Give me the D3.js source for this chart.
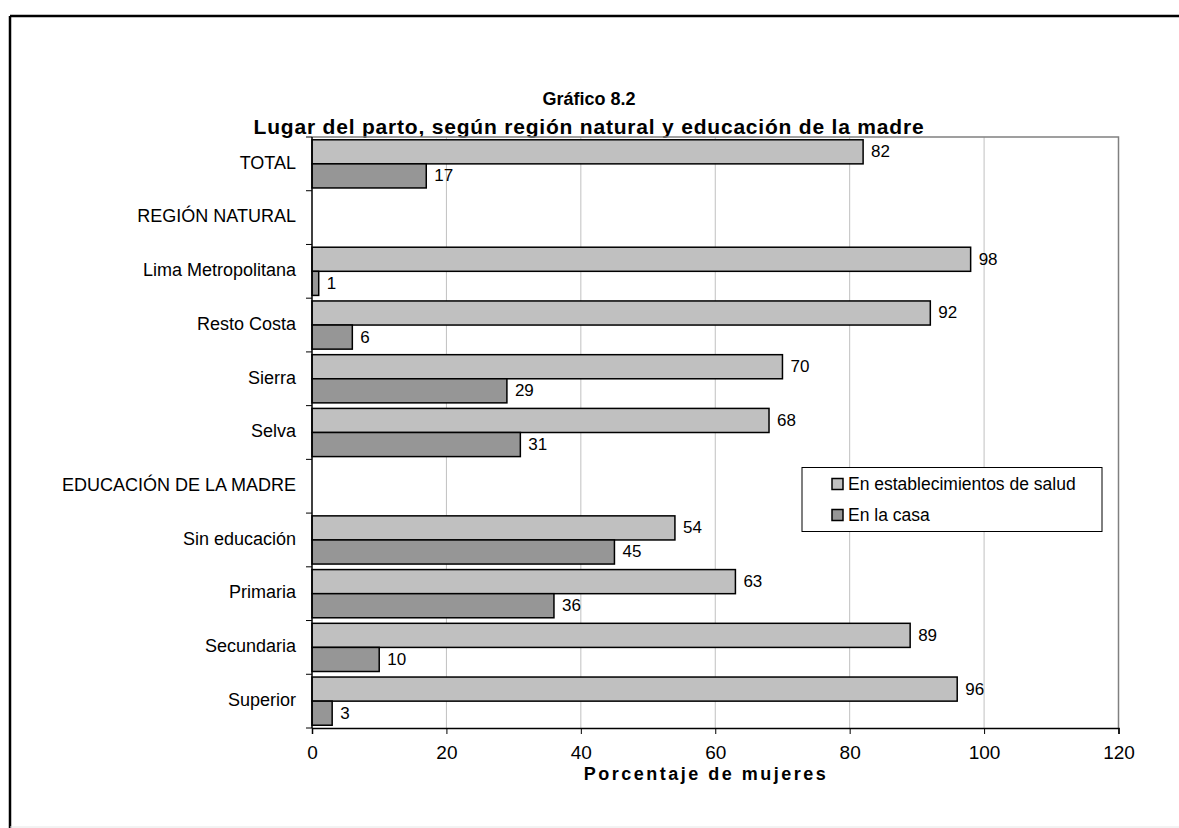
<!DOCTYPE html>
<html><head><meta charset="utf-8">
<script src="https://cdn.jsdelivr.net/npm/d3@7/dist/d3.min.js"></script>
<style>
html,body{margin:0;padding:0;background:#fff;}
text{font-family:"Liberation Sans",Arial,sans-serif;fill:#000;}
</style></head>
<body>
<svg id="chart" width="1179" height="828"></svg>
<script>
const categories = ["TOTAL","REGIÓN NATURAL","Lima Metropolitana","Resto Costa","Sierra","Selva","EDUCACIÓN DE LA MADRE","Sin educación","Primaria","Secundaria","Superior"];
const seriesNames = ["En establecimientos de salud","En la casa"];
const salud = [82,null,98,92,70,68,null,54,63,89,96];
const casa  = [17,null,1,6,29,31,null,45,36,10,3];
const xTicks = [0,20,40,60,80,100,120];
const colors = ["#c0c0c0","#969696"];

const svg = d3.select("#chart");
svg.append("rect").attr("width",1179).attr("height",828).attr("fill","#fff");
// outer frame
svg.append("line").attr("x1",10).attr("x2",1179).attr("y1",16).attr("y2",16).attr("stroke","#000").attr("stroke-width",2.5);
svg.append("line").attr("x1",10).attr("x2",10).attr("y1",16).attr("y2",828).attr("stroke","#000").attr("stroke-width",2.5);
svg.append("line").attr("x1",10).attr("x2",1179).attr("y1",827).attr("y2",827).attr("stroke","#e6e6e6").attr("stroke-width",1);

const L=312, R=1118.5, T=137, B=728;
const x = d3.scaleLinear().domain([0,120]).range([L,R]);
const y = d3.scaleBand().domain(categories).range([T,B]).paddingInner(0).paddingOuter(0);
const inner = d3.scaleBand().domain([0,1]).range([0,y.bandwidth()]).paddingOuter(0.115).paddingInner(0);

// title
svg.append("text").attr("x",589).attr("y",100).attr("text-anchor","middle").attr("dominant-baseline","middle")
  .style("font-weight","bold").style("font-size","18px").text("Gráfico 8.2");
svg.append("text").attr("x",589).attr("y",128).attr("text-anchor","middle").attr("dominant-baseline","middle")
  .style("font-weight","bold").style("font-size","21px").style("letter-spacing","0.8px").text("Lugar del parto, según región natural y educación de la madre");

// gridlines
svg.append("g").selectAll("line").data(xTicks.filter(d=>d>0 && d<120)).join("line")
  .attr("x1",d=>x(d)).attr("x2",d=>x(d)).attr("y1",T).attr("y2",B).attr("stroke","#c0c0c0").attr("stroke-width",1);
// plot border top & right
svg.append("path").attr("d",`M${L},${T}H${R}V${B}`).attr("fill","none").attr("stroke","#808080").attr("stroke-width",1.5);

// bars
const data = [];
categories.forEach((c,i)=>{
  [salud[i],casa[i]].forEach((v,k)=>{ if(v!=null) data.push({c,k,v}); });
});
const g = svg.append("g");
g.selectAll("rect").data(data).join("rect")
  .attr("x",x(0)).attr("y",d=>y(d.c)+inner(d.k)).attr("width",d=>x(d.v)-x(0)).attr("height",inner.bandwidth())
  .attr("fill",d=>colors[d.k]).attr("stroke","#000").attr("stroke-width",1.5);
g.selectAll("text").data(data).join("text")
  .attr("x",d=>x(d.v)+8).attr("y",d=>y(d.c)+inner(d.k)+inner.bandwidth()/2+1)
  .attr("dominant-baseline","middle").style("font-size","17px").text(d=>d.v);

// axes
const yAxis = svg.append("g").attr("transform",`translate(${L},0)`);
yAxis.append("line").attr("x1",0).attr("x2",0).attr("y1",T).attr("y2",B).attr("stroke","#000").attr("stroke-width",1.5);
const bounds = categories.map(c=>y(c)).concat([B]);
yAxis.selectAll("line.tk").data(bounds).join("line").attr("class","tk")
  .attr("x1",-6).attr("x2",0).attr("y1",d=>d).attr("y2",d=>d).attr("stroke","#000").attr("stroke-width",1);
svg.append("g").selectAll("text").data(categories).join("text")
  .attr("x",296).attr("y",d=>y(d)+y.bandwidth()/2).attr("text-anchor","end").attr("dominant-baseline","middle")
  .style("font-size","18px").text(d=>d);

const xAxis = d3.axisBottom(x).tickValues(xTicks).tickSize(6).tickPadding(12);
const xa = svg.append("g").attr("transform",`translate(0,${B})`).call(xAxis);
xa.select(".domain").attr("stroke","#000").attr("stroke-width",1.5);
xa.selectAll(".tick line").attr("stroke","#000");
xa.selectAll(".tick text").style("font-size","19px").style("font-family","'Liberation Sans',Arial,sans-serif").attr("fill","#000");
svg.append("text").attr("x",706).attr("y",775).attr("text-anchor","middle").attr("dominant-baseline","middle")
  .style("font-weight","bold").style("font-size","18px").style("letter-spacing","2.5px").text("Porcentaje de mujeres");

// legend
const lg = svg.append("g");
lg.append("rect").attr("x",802).attr("y",467.5).attr("width",300).attr("height",64).attr("fill","#fff").attr("stroke","#000").attr("stroke-width",1);
seriesNames.forEach((n,i)=>{
  const cy = 484 + i*31;
  lg.append("rect").attr("x",832).attr("y",cy-5.5).attr("width",11).attr("height",11).attr("fill",colors[i]).attr("stroke","#000").attr("stroke-width",1.5);
  lg.append("text").attr("x",848).attr("y",cy+1).attr("dominant-baseline","middle").style("font-size","17.5px").text(n);
});
</script>
</body></html>
